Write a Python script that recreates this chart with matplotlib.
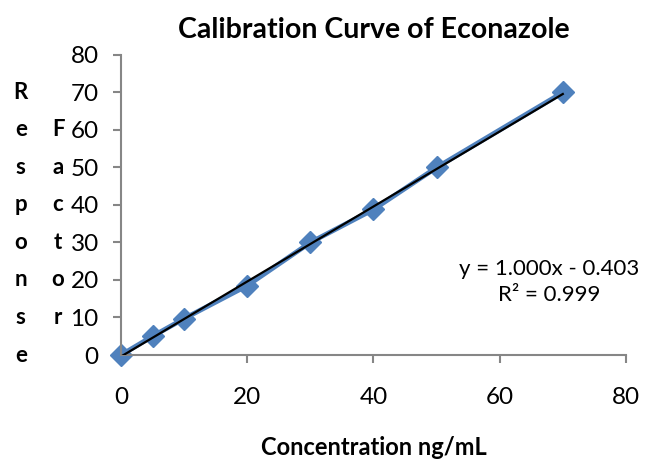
import matplotlib.pyplot as plt
import matplotlib.transforms as mtransforms
import numpy as np

plt.rcParams['font.family'] = ['Lato', 'DejaVu Sans']

# calibration data
conc = [0, 5, 10, 20, 30, 40, 50, 70]
response = [0, 5.0, 9.7, 18.5, 30.0, 38.8, 50.0, 70.0]
slope = 1.000
intercept = -0.403
r2 = 0.999
xticks = [0, 20, 40, 60, 80]
yticks = [0, 10, 20, 30, 40, 50, 60, 70, 80]

fig = plt.figure(figsize=(6.52, 4.62), dpi=100)
ax = fig.add_axes([0.1856, 0.2316, 0.7744, 0.6494])

ax.plot(conc, response, color='#4F81BD', lw=3.5, marker='D', ms=11,
        mec='#4F81BD', mfc='#4F81BD', zorder=2, clip_on=False)
xfit = np.array([conc[0], conc[-1]])
ax.plot(xfit, slope * xfit + intercept, color='black', lw=1.6, zorder=3)

ax.set_xlim(0, 80)
ax.set_ylim(0, 80)
ax.set_xticks(xticks)
ax.set_yticks(yticks)
for s in ['top', 'right']:
    ax.spines[s].set_visible(False)
for s in ['left', 'bottom']:
    ax.spines[s].set_color('#868686')
    ax.spines[s].set_linewidth(1.5)
ax.tick_params(direction='out', length=6, width=1.5, color='#868686',
               labelsize=17.5, pad=4)
ax.tick_params(axis='y', pad=10)
ax.tick_params(axis='x', pad=17)

ax.set_title('Calibration Curve of Econazole', fontsize=20.5, fontweight='bold', pad=12)
ax.set_xlabel('Concentration ng/mL', fontsize=17, fontweight='bold', labelpad=20)

# stacked vertical y-axis label letters
trans = mtransforms.blended_transform_factory(fig.transFigure, ax.transData)
for i, ch in enumerate('Response'):
    ax.text(0.032, 70 - 10 * i, ch, transform=trans, fontsize=16, fontweight='bold',
            ha='center', va='center')
for i, ch in enumerate('Factor'):
    ax.text(0.089, 60 - 10 * i, ch, transform=trans, fontsize=16, fontweight='bold',
            ha='center', va='center')

ax.text(0.842, 0.39, 'y = %.3fx - %.3f\nR² = %.3f' % (slope, -intercept, r2),
        transform=fig.transFigure, fontsize=16, ha='center', va='center',
        linespacing=1.35, multialignment='center')

fig.savefig('out.png', dpi=100)
